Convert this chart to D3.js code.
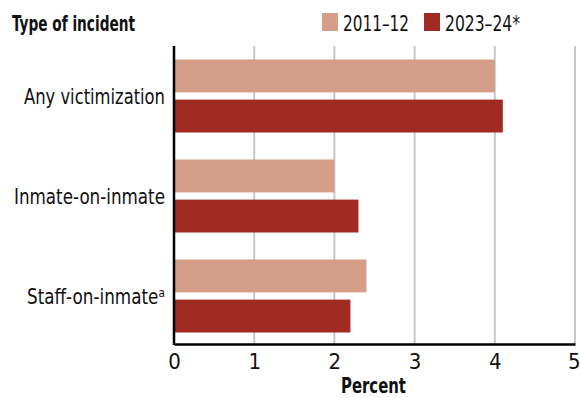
<!DOCTYPE html>
<html><head><meta charset="utf-8">
<script src="https://cdn.jsdelivr.net/npm/d3@7/dist/d3.min.js"></script>
<style>body{margin:0;background:#fff}svg{display:block}text{font-family:"DejaVu Sans Condensed","DejaVu Sans",sans-serif;font-stretch:condensed}</style>
</head><body><svg id="c" width="580" height="398"></svg>
<script>
const categories = ["Any victimization", "Inmate-on-inmate", "Staff-on-inmate"];
const superscripts = ["", "", "ᵃ"];
const series = ["2011–12", "2023–24*"];
const values2011 = [4.0, 2.0, 2.4];
const values2023 = [4.1, 2.3, 2.2];
const ticks = [0, 1, 2, 3, 4, 5];
const colors = ["#d49e89", "#a12a23"];

const FS = 22;
const svg = d3.select("#c");
const x = d3.scaleLinear().domain([0, 5]).range([174, 575]);
const y = d3.scaleBand().domain(categories).range([46, 346]).paddingInner(0.27).paddingOuter(0.135);
const ys = d3.scaleBand().domain(series).range([0, y.bandwidth()]).paddingInner(0.18);

function fit(sel, w) { sel.attr("textLength", w).attr("lengthAdjust", "spacingAndGlyphs"); return sel; }

// gridlines
svg.append("g").selectAll("line").data(ticks.slice(1)).join("line")
  .attr("x1", d => x(d)).attr("x2", d => x(d)).attr("y1", 46).attr("y2", 344)
  .attr("stroke", "#c8c8c8").attr("stroke-width", 2);

const data = categories.map((c, i) => ({c, v: [values2011[i], values2023[i]]}));
const g = svg.append("g").selectAll("g").data(data).join("g")
  .attr("transform", d => `translate(0,${y(d.c)})`);
g.selectAll("rect").data(d => d.v.map((v, j) => ({s: series[j], v, j}))).join("rect")
  .attr("x", x(0)).attr("y", d => ys(d.s)).attr("height", ys.bandwidth())
  .attr("width", d => x(d.v) - x(0)).attr("fill", d => colors[d.j]);

// axes lines
svg.append("line").attr("x1", x(0)).attr("x2", x(0)).attr("y1", 46).attr("y2", 345)
  .attr("stroke", "#000").attr("stroke-width", 2.5);
const xa = svg.append("g").attr("transform", "translate(0,344)")
  .call(d3.axisBottom(x).tickValues(ticks).tickSize(0).tickPadding(9).tickFormat(d3.format("d")));
xa.select(".domain").attr("stroke", "#000").attr("stroke-width", 2.5);
xa.selectAll("text").attr("font-size", FS).attr("fill", "#111")
  .attr("font-family", '"DejaVu Sans Condensed","DejaVu Sans",sans-serif')
  .attr("text-anchor", d => d === 5 ? "end" : "middle")
  .attr("dx", d => d === 5 ? 5 : 0);

fit(svg.append("text").attr("x", 341).attr("y", 393)
  .attr("font-size", FS).attr("font-weight", "bold").attr("fill", "#111").text("Percent"), 65);

// category labels
const labW = [141, 151, 138];
const labX = [24, 14, 27];
svg.append("g").selectAll("text").data(categories).join("text")
  .attr("x", (d, i) => labX[i])
  .attr("y", d => y(d) + y.bandwidth() / 2 + 8)
  .attr("font-size", FS).attr("fill", "#111")
  .text((d, i) => d + superscripts[i])
  .each(function(d, i) { fit(d3.select(this), labW[i]); });

// title
fit(svg.append("text").attr("x", 12).attr("y", 31).attr("font-size", FS).attr("font-weight", "bold")
  .attr("fill", "#111").text("Type of incident"), 123);

// legend
const legX = [322, 424];
const legW = [66, 75];
series.forEach((s, i) => {
  svg.append("rect").attr("x", legX[i]).attr("y", 13).attr("width", 16).attr("height", 18).attr("fill", colors[i]);
  fit(svg.append("text").attr("x", legX[i] + 21).attr("y", 31).attr("font-size", FS).attr("fill", "#111").text(s), legW[i]);
});
</script></body></html>
